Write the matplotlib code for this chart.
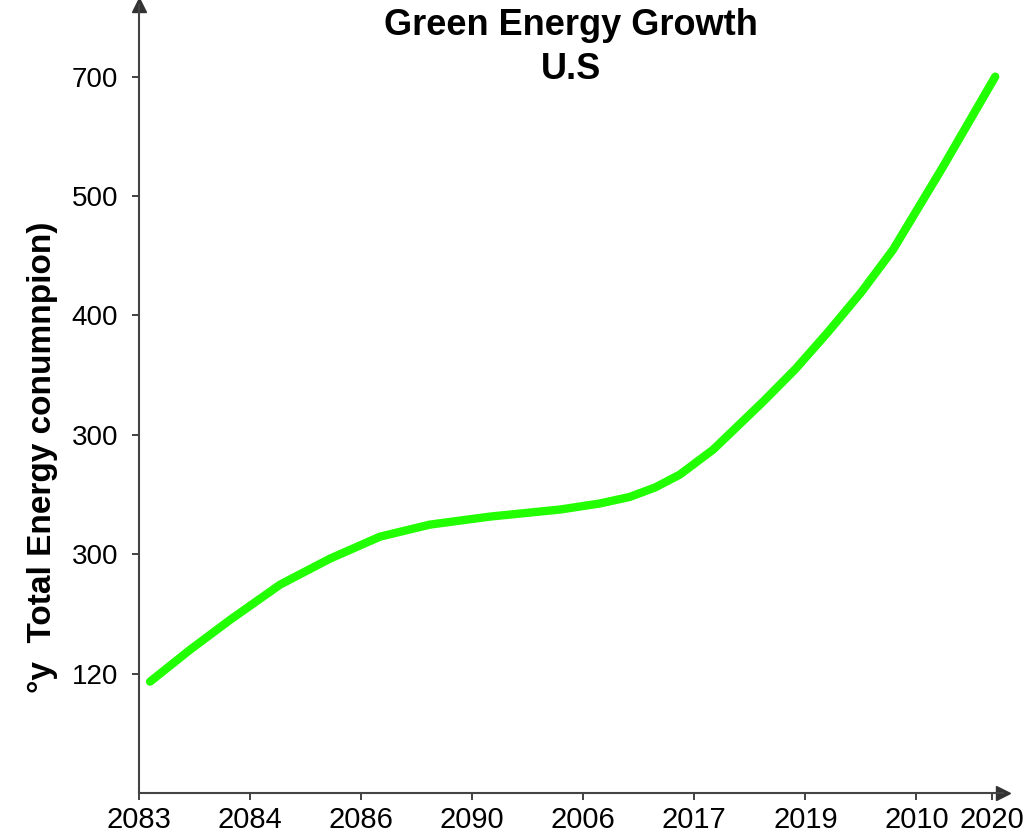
import matplotlib.pyplot as plt

plt.rcParams['font.family'] = ['Liberation Sans', 'DejaVu Sans']

# tick labels as printed on the chart
x_labels = ['2083', '2084', '2086', '2090', '2006', '2017', '2019', '2010', '2020']
x_ticks = [0, 1, 2, 3, 4, 5, 6, 7, 7.68]
y_labels = ['120', '300', '300', '400', '500', '700']
y_ticks = [0, 1, 2, 3, 4, 5]

# curve, in tick units
curve_x = [0.10, 0.46, 0.82, 1.27, 1.72, 2.17, 2.62, 3.16, 3.79, 4.15, 4.42, 4.65, 4.87,
           5.17, 5.62, 5.91, 6.20, 6.50, 6.79, 7.24, 7.71]
curve_y = [-0.067, 0.20, 0.45, 0.745, 0.963, 1.147, 1.248, 1.315, 1.374, 1.425, 1.48,
           1.56, 1.667, 1.876, 2.278, 2.55, 2.856, 3.19, 3.551, 4.246, 5.0]

fig = plt.figure(figsize=(10.24, 8.34), dpi=100)
ax = fig.add_axes([139 / 1024, 41 / 834, 864 / 1024, 788 / 834])

ax.plot(curve_x, curve_y, color='#22ff00', linewidth=6, solid_capstyle='round',
        solid_joinstyle='round')

ax.set_xlim(0, 7.78)
ax.set_ylim(-1.0, 5.6)
ax.set_xticks(x_ticks)
ax.set_xticklabels(x_labels)
ax.set_yticks(y_ticks)
ax.set_yticklabels(y_labels)
ax.tick_params(labelsize=20, length=5, width=1.3, color='#333333', labelcolor='black')
ax.tick_params(axis='x', labelsize=21, pad=4)
ax.tick_params(axis='y', pad=10)

for side in ['top', 'right']:
    ax.spines[side].set_visible(False)
for side in ['left', 'bottom']:
    ax.spines[side].set_color('#444444')
    ax.spines[side].set_linewidth(1.5)

# arrow heads on the axes
ax.plot(1, 0, '>', color='#333333', markersize=10, transform=ax.transAxes, clip_on=False)
ax.plot(0, 1, '^', color='#333333', markersize=10, transform=ax.transAxes, clip_on=False)

ax.set_ylabel('°y  Total Energy conumnpion)', fontsize=24, fontweight='bold')
ax.yaxis.set_label_coords(-0.094, 0.426)
fig.text(571 / 1024, 1 - 8 / 834, 'Green Energy Growth\nU.S', ha='center', va='top',
         fontsize=26, fontweight='bold', linespacing=1.35)

fig.savefig('out.png', dpi=100)
